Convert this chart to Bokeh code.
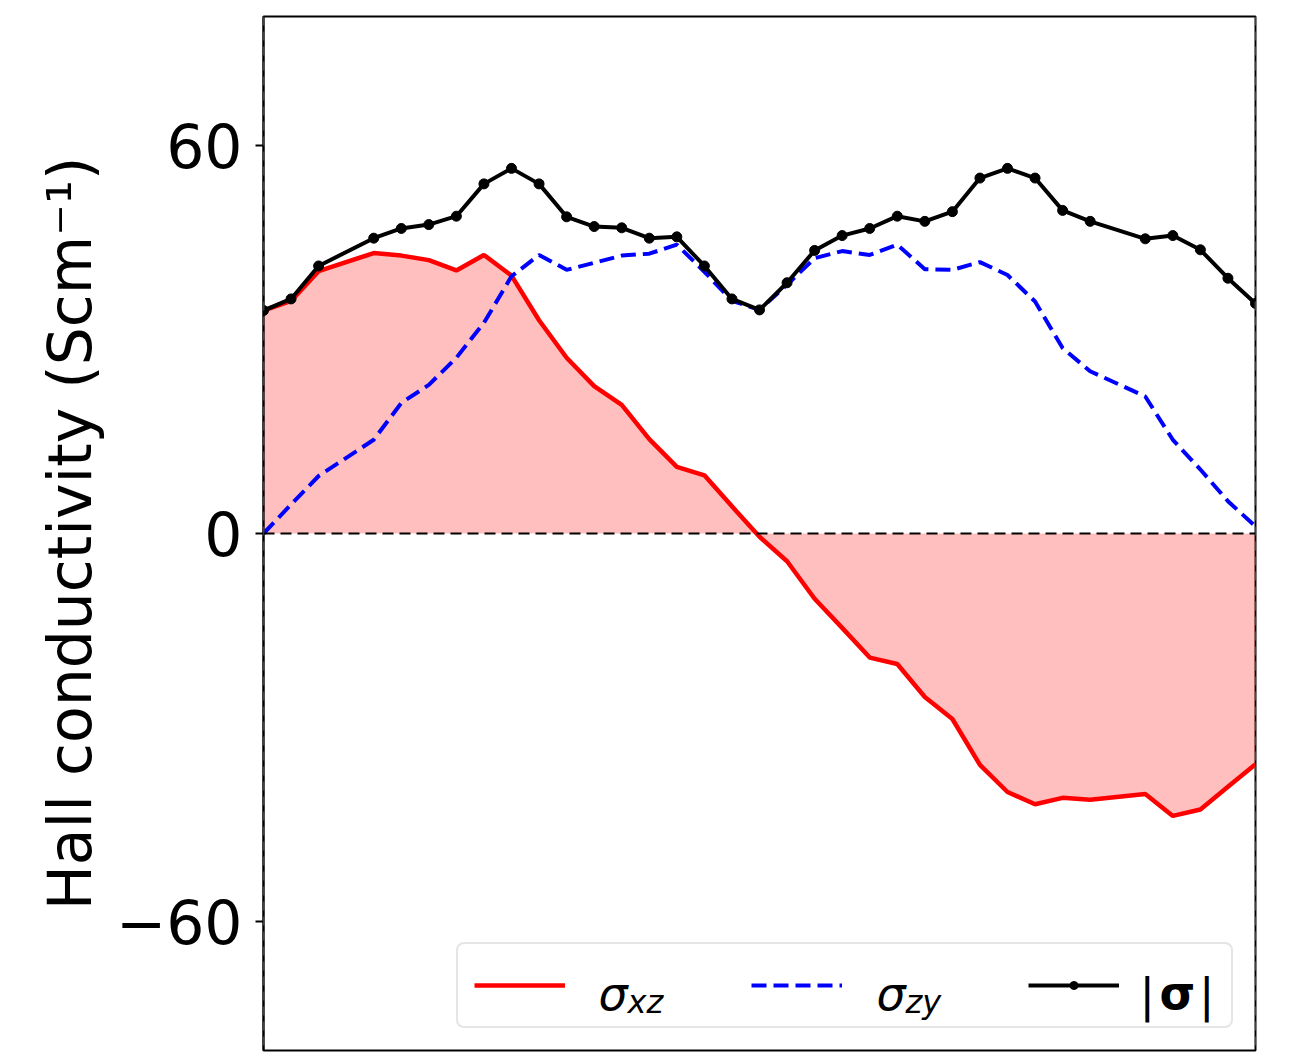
from bokeh.plotting import figure
from bokeh.models import Range1d, FixedTicker, Span, Legend, LegendItem, Label
from bokeh.embed import file_html
from bokeh.resources import INLINE

# k-path sample index (samples 3 and 31 are absent from the calculation)
k_index = [0, 1, 2, 4, 5, 6, 7, 8, 9, 10, 11, 12, 13, 14, 15, 16, 17, 18, 19,
           20, 21, 22, 23, 24, 25, 26, 27, 28, 29, 30, 32, 33, 34, 35, 36]

# Hall conductivity components (S/cm)
sigma_xz = [34.5, 36.0, 40.6, 43.4, 43.0, 42.3, 40.7, 43.1, 39.9, 33.0,
            27.2, 22.8, 19.9, 14.6, 10.3, 9.0, 4.2, -0.5, -4.3, -10.1,
            -14.6, -19.2, -20.2, -25.3, -28.7, -35.8, -40.0, -41.9, -40.9, -41.2,
            -40.3, -43.7, -42.7, -39.2, -35.7]
sigma_zy = [0.0, 4.5, 8.9, 14.5, 20.2, 23.0, 27.2, 32.6, 39.8, 43.1,
            40.8, 41.9, 43.0, 43.3, 44.7, 40.5, 36.0, 34.6, 38.5, 42.6,
            43.7, 43.1, 44.7, 40.9, 40.8, 42.0, 40.0, 35.9, 28.7, 25.1,
            21.2, 14.5, 9.9, 5.0, 1.1]
sigma_abs = [34.5, 36.3, 41.4, 45.7, 47.2, 47.8, 49.1, 54.1, 56.5, 54.1,
             49.0, 47.5, 47.3, 45.7, 45.9, 41.4, 36.3, 34.6, 38.8, 43.8,
             46.1, 47.2, 49.1, 48.3, 49.8, 55.0, 56.5, 55.0, 50.0, 48.3,
             45.6, 46.1, 43.9, 39.5, 35.6]

y_ticks = [-60, 0, 60]
y_label = "Hall conductivity (Scm\u207b\u00b9)"
legend_symbols = ["\u03c3", "\u03c3"]
legend_subscripts = ["xz", "zy"]
norm_symbol = "\u03c3"
norm_bar = "|"

X_MIN, X_MAX = 0, 36
Y_MIN, Y_MAX = -80, 80

# canvas / frame geometry (pixels)
W, H = 1307, 1052
FL, FR, FT, FB = 263, 1255, 16, 1050

FONT = "DejaVu Sans"

p = figure(width=W, height=H, output_backend="svg", toolbar_location=None,
           x_axis_location=None,
           x_range=Range1d(X_MIN, X_MAX), y_range=Range1d(Y_MIN, Y_MAX),
           min_border_left=FL, min_border_right=W - FR,
           min_border_top=FT, min_border_bottom=H - FB)
p.background_fill_color = "white"
p.border_fill_color = "white"
p.outline_line_color = "black"
p.outline_line_width = 2
p.grid.visible = False

ax = p.yaxis[0]
ax.ticker = FixedTicker(ticks=y_ticks)
ax.major_label_overrides = {t: ("\u2212" + str(abs(t)) if t < 0 else str(t)) for t in y_ticks}
ax.major_label_text_font = FONT
ax.major_label_text_font_size = "60px"
ax.major_label_text_color = "black"
ax.major_label_standoff = 13
ax.major_tick_out = 8
ax.major_tick_in = 0
ax.major_tick_line_width = 2
ax.minor_tick_line_color = None
ax.axis_line_width = 2
ax.axis_label = y_label
ax.axis_label_text_font = FONT
ax.axis_label_text_font_size = "60px"
ax.axis_label_text_font_style = "normal"
ax.axis_label_text_color = "black"
ax.axis_label_standoff = 8

# dashed markers at the path ends
for loc in (X_MIN, X_MAX):
    p.add_layout(Span(location=loc, dimension="height", line_color="gray",
                      line_dash="9 6", line_width=1.5))

# shaded area under sigma_xz
p.varea(x=k_index, y1=[0] * len(k_index), y2=sigma_xz,
        fill_color="red", fill_alpha=0.25)

p.add_layout(Span(location=0, dimension="width", line_color="black",
                  line_dash="11 6", line_width=2))

r_xz = p.line(k_index, sigma_xz, line_color="red", line_width=4.5)
r_zy = p.line(k_index, sigma_zy, line_color="blue", line_width=4,
              line_dash="15 7")
r_abs = p.line(k_index, sigma_abs, line_color="black", line_width=4)
r_abs_pts = p.scatter(k_index, sigma_abs, size=10, fill_color="black",
                      line_color="black")

legend = Legend(items=[
    LegendItem(label=" ", renderers=[r_xz]),
    LegendItem(label=" ", renderers=[r_zy]),
    LegendItem(label=" ", renderers=[r_abs, r_abs_pts]),
], orientation="horizontal", location="bottom_right")
legend.margin = 22
legend.padding = 16
legend.spacing = 90
legend.glyph_width = 91
legend.glyph_height = 20
legend.label_width = 64
legend.label_height = 50
legend.label_standoff = 32
legend.label_text_font_size = "10px"
legend.border_line_color = "#cccccc"
legend.border_line_width = 2
legend.background_fill_alpha = 0.0
if "border_radius" in legend.properties():
    legend.border_radius = 8
p.add_layout(legend)


def px_x(px):
    return X_MIN + (px - FL) / (FR - FL) * (X_MAX - X_MIN)


def px_y(py):
    return Y_MAX - (py - FT) / (FB - FT) * (Y_MAX - Y_MIN)


def add_text(text, px, py, size, style="normal", align="left"):
    p.add_layout(Label(x=px_x(px), y=px_y(py), text=text,
                       text_font=FONT, text_font_size=size,
                       text_font_style=style, text_color="black",
                       text_baseline="alphabetic", text_align=align))


# legend labels: sigma with italic subscripts
for sym, sub, lx in zip(legend_symbols, legend_subscripts, [598, 876]):
    add_text(sym, lx, 993, "46px", "italic")
    add_text(sub, lx + 29, 1001, "32px", "italic")

# |sigma| with a bold sigma between plain bars
add_text(norm_bar, 1139, 994, "46px")
add_text(norm_symbol, 1177, 992, "46px", "bold", "center")
add_text(norm_bar, 1214, 994, "46px", align="right")

open("out.html", "w").write(file_html(p, INLINE))
